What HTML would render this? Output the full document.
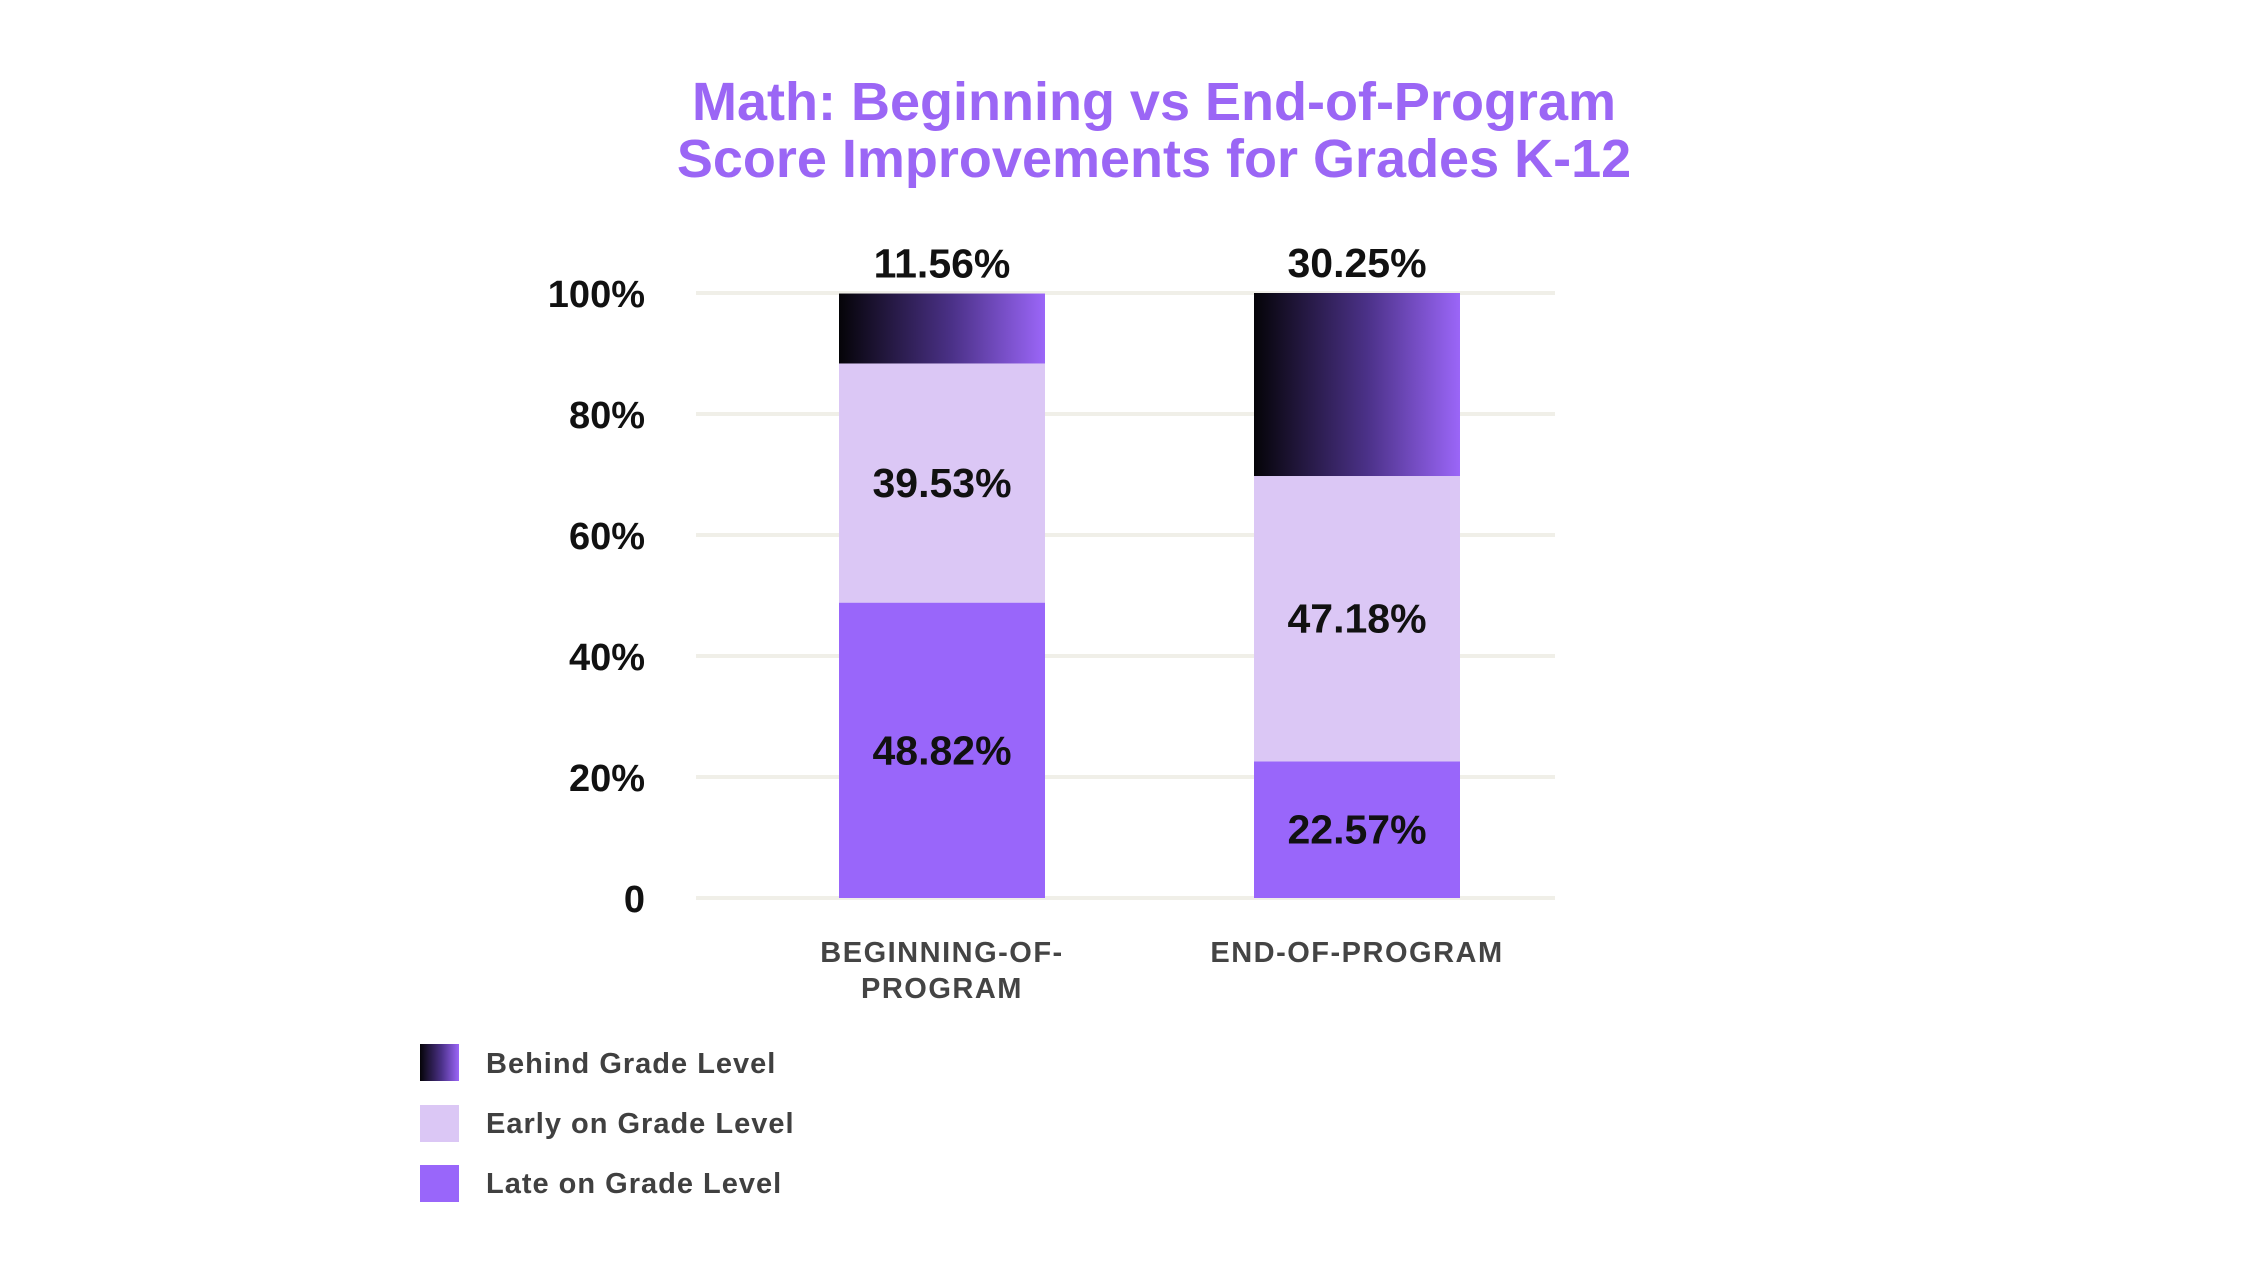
<!DOCTYPE html>
<html><head><meta charset="utf-8"><style>
body{margin:0;background:#fff;width:2250px;height:1260px;overflow:hidden;font-family:"Liberation Sans",sans-serif}
</style></head><body>
<svg id="chart" width="2250" height="1260" viewBox="0 0 2250 1260" xmlns="http://www.w3.org/2000/svg">
<defs><linearGradient id="grad" x1="0" x2="1" y1="0" y2="0"><stop offset="0" stop-color="#050408"/><stop offset="0.55" stop-color="#4b3188"/><stop offset="1" stop-color="#9b66f8"/></linearGradient></defs>
<g font-weight="bold" font-size="54" fill="#9b66f5" text-anchor="middle">
<text x="1154" y="120">Math: Beginning vs End-of-Program</text>
<text x="1154" y="177">Score Improvements for Grades K-12</text>
</g>
<g id="grid"></g><g id="bars"></g><g id="labels"></g>
<g font-size="29" fill="#404040" font-weight="bold" letter-spacing="1">
<rect x="420" y="1044" width="39" height="37" fill="url(#grad)"/>
<text x="486" y="1073">Behind Grade Level</text>
<rect x="420" y="1105" width="39" height="37" fill="#dbc7f5"/>
<text x="486" y="1133">Early on Grade Level</text>
<rect x="420" y="1165" width="39" height="37" fill="#9966fa"/>
<text x="486" y="1193">Late on Grade Level</text>
</g>
</svg>
<script>
const categories = [["BEGINNING-OF-","PROGRAM"],["END-OF-PROGRAM"]];
const late = [48.82, 22.57];
const early = [39.53, 47.18];
const behind = [11.56, 30.25];
const yTicks = [0,20,40,60,80,100];
const tickLabels = ["0","20%","40%","60%","80%","100%"];
const NS="http://www.w3.org/2000/svg";
const y = v => 898 - v/100*605;
const x = i => 839 + i*415;
const bw = 206;
function mk(tag, attrs, parent){const e=document.createElementNS(NS,tag);for(const k in attrs)e.setAttribute(k,attrs[k]);parent.appendChild(e);return e;}
const grid=document.getElementById('grid'),bars=document.getElementById('bars'),labels=document.getElementById('labels');
yTicks.forEach((t,i)=>{
  const l=mk('line',{x1:696,x2:1555,y1:y(t),y2:y(t),stroke:'#f0efe8','stroke-width':4},grid);
  
  
  const tx=mk('text',{x:645,y:y(t)+14,'text-anchor':'end','font-size':38,'font-weight':'bold',fill:'#111'},grid);
  tx.textContent=tickLabels[i];
  
  
});
const series=[[late,'#9966fa','late'],[early,'#dbc7f5','early'],[behind,'url(#grad)','behind']];
categories.forEach((c,i)=>{
  let base=0;
  series.forEach(([arr,fill,nm],s)=>{
    const v=arr[i];
    const r=mk('rect',{x:x(i),y:y(base+v),width:bw,height:y(base)-y(base+v),fill:fill},bars);
    
    
    const ly = s===2 ? y(base+v)-16 : (y(base)+y(base+v))/2+14;
    const t=mk('text',{x:x(i)+bw/2,y:ly,'text-anchor':'middle','font-size':41,'font-weight':'bold',fill:'#111'},labels);
    t.textContent=v.toFixed(2)+'%';
    
    
    base+=v;
  });
  c.forEach((line,j)=>{
    const t=mk('text',{x:x(i)+bw/2,y:962+j*36,'text-anchor':'middle','font-size':29,'font-weight':'bold',fill:'#444','letter-spacing':1.5},labels);
    t.textContent=line;
    
    
  });
});
</script>
</body></html>
